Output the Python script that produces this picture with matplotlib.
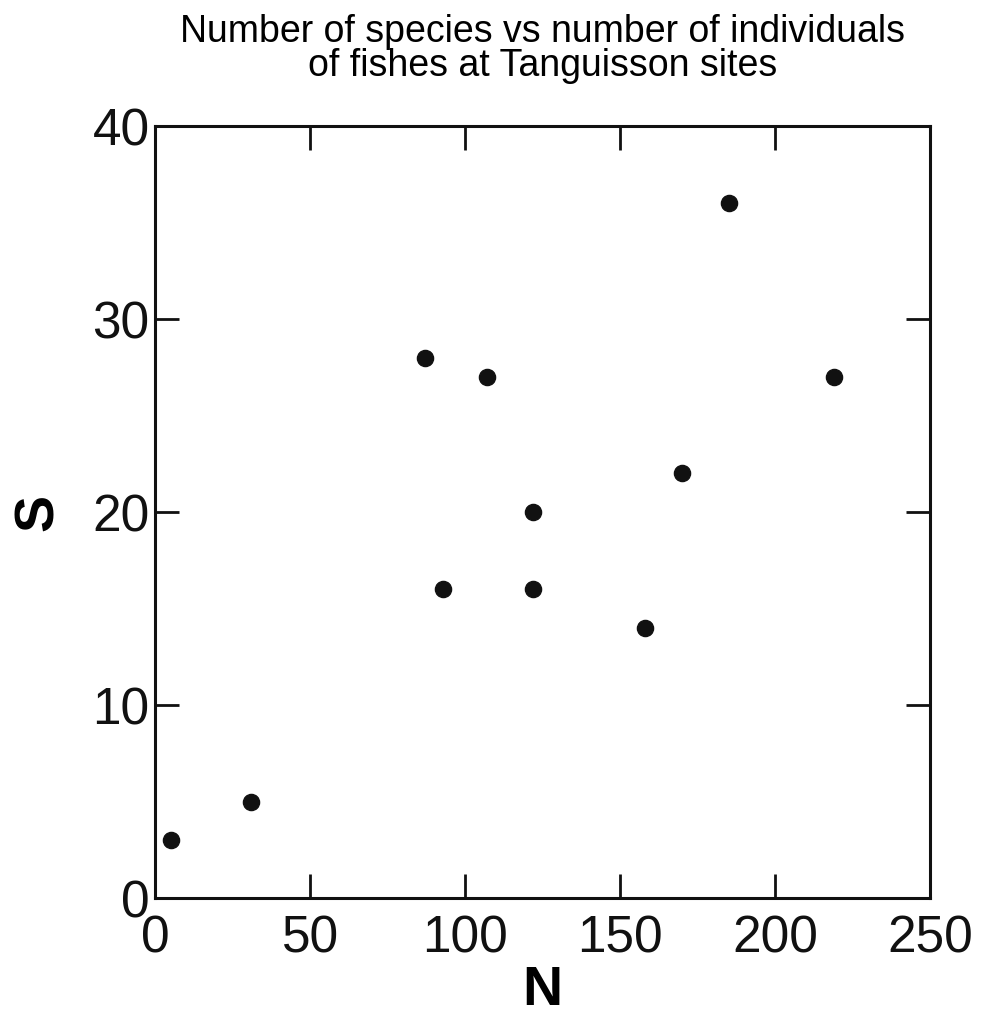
import matplotlib
matplotlib.use("Agg")
from matplotlib import pyplot as plt

plt.rcParams['font.family'] = ['Liberation Sans', 'DejaVu Sans']

# individuals (N) and species (S) per site
N = [5, 31, 87, 93, 107, 122, 122, 158, 170, 185, 219]
S = [3, 5, 28, 16, 27, 20, 16, 14, 22, 36, 27]

xticks = [0, 50, 100, 150, 200, 250]
yticks = [0, 10, 20, 30, 40]

fig = plt.figure(figsize=(9.82, 10.17), dpi=100)
ax = fig.add_axes([0.158, 0.117, 0.789, 0.759])

ax.scatter(N, S, s=135, color='#111111', zorder=3)

ax.set_xlim(0, 250)
ax.set_ylim(0, 40)
ax.set_xticks(xticks)
ax.set_yticks(yticks)

ax.tick_params(direction='in', length=17, width=2, labelsize=37,
               top=True, right=True, colors='#111111')
ax.tick_params(axis='x', pad=12)
ax.tick_params(axis='y', pad=4)
for sp in ax.spines.values():
    sp.set_linewidth(2.2)
    sp.set_color('#111111')

ax.set_xlabel('N', fontsize=40, fontweight='bold', labelpad=1)
ax.set_ylabel('S', fontsize=40, fontweight='bold', labelpad=20)
ax.set_title('Number of species vs number of individuals\nof fishes at Tanguisson sites',
             fontsize=27, linespacing=0.92, pad=36)

fig.savefig('out.png', dpi=100, facecolor='white')
